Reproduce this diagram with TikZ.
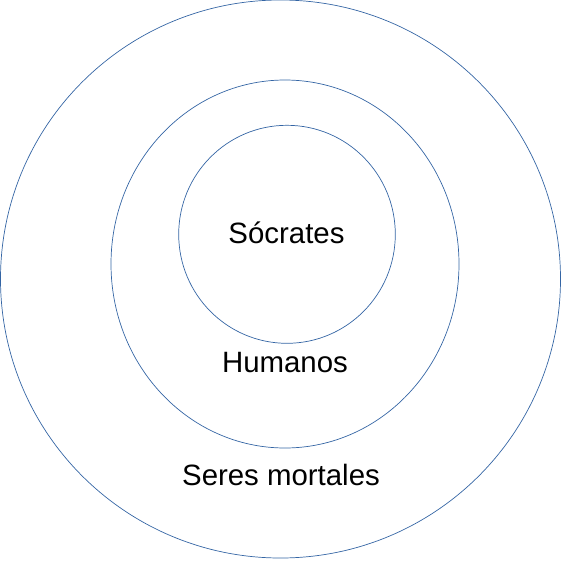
\documentclass[tikz,border=0pt]{standalone}
\usepackage{fontspec}
\setmainfont{Liberation Sans}
\definecolor{ringblue}{HTML}{3465A4}
\begin{document}
\begin{tikzpicture}[x=1pt,y=-1pt,
  ring/.style={draw=ringblue,line width=0.7pt},
  lbl/.style={anchor=base,inner sep=0pt,font=\fontsize{29.4}{34}\selectfont,text=black}]
\useasboundingbox (0,0) rectangle (562,560);
\draw[ring] (280.5,279) ellipse [x radius=280,y radius=279];
\draw[ring] (285,264) ellipse [x radius=174,y radius=184];
\draw[ring] (287,234.3) ellipse [x radius=108.3,y radius=109];
\node[lbl] (socrates) at (286.5,243.5) {Sócrates};
\node[lbl] (humanos) at (285,372.3) {Humanos};
\node[lbl] (seres) at (281,485.5) {Seres mortales};
\end{tikzpicture}
\end{document}
